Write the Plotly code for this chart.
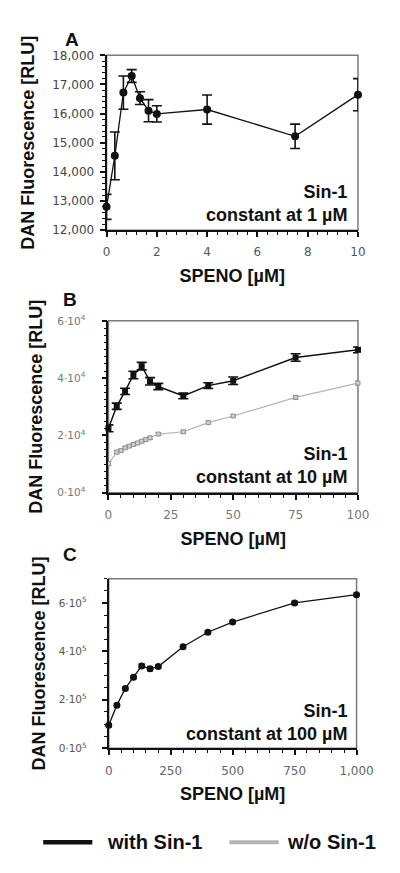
import plotly.graph_objects as go

# ---------------- data ----------------
# Panel A : Sin-1 constant at 1 µM
a_x = [0, 0.33, 0.67, 1.0, 1.33, 1.67, 2.0, 4.0, 7.5, 10.0]
a_y = [12800, 14550, 16720, 17290, 16530, 16100, 15990, 16140, 15220, 16650]
a_err = [430, 820, 570, 220, 220, 380, 280, 500, 420, 550]

# Panel B : Sin-1 constant at 10 µM
b_x_with = [0, 3.33, 6.67, 10, 13.33, 16.67, 20, 30, 40, 50, 75, 100]
b_y_with = [22500, 30200, 35400, 41100, 44200, 38900, 37100, 33800, 37400, 39100, 47200, 49900]
b_err_with = [1200, 1100, 1100, 1300, 1300, 1300, 1100, 1000, 1000, 1300, 1300, 1000]

b_x_wo = [0, 3.33, 5, 6.67, 8.33, 10, 11.67, 13.33, 15, 16.67, 20, 30, 40, 50, 75, 100]
b_y_wo = [10200, 14200, 14800, 15700, 16300, 16900, 17400, 18000, 18600, 19200,
          20500, 21300, 24500, 26800, 33300, 38300]
b_err_wo = [700, 600, 500, 500, 500, 500, 500, 500, 500, 500, 500, 500, 500, 500, 700, 800]

# Panel C : Sin-1 constant at 100 µM
c_x = [0, 33, 67, 100, 133, 167, 200, 300, 400, 500, 750, 1000]
c_y = [95000, 178000, 247000, 293000, 340000, 328000, 337000, 419000, 479000, 521000, 600000, 634000]
c_err = [8000, 7000, 7000, 7000, 8000, 8000, 7000, 7000, 7000, 7000, 7000, 8000]

b_yticks = [0, 20000, 40000, 60000]
b_yticklabels = ["0·10<sup>4</sup>", "2·10<sup>4</sup>", "4·10<sup>4</sup>", "6·10<sup>4</sup>"]
c_yticks = [0, 200000, 400000, 600000]
c_yticklabels = ["0·10<sup>5</sup>", "2·10<sup>5</sup>", "4·10<sup>5</sup>", "6·10<sup>5</sup>"]
c_xticks = [0, 250, 500, 750, 1000]
c_xticklabels = ["0", "250", "500", "750", "1,000"]

panel_notes = ["Sin-1<br>constant at 1 µM", "Sin-1<br>constant at 10 µM", "Sin-1<br>constant at 100 µM"]
legend_names = ["with Sin-1", "w/o Sin-1"]

# ---------------- figure ----------------
# The page body has an 8px margin, so the figure is drawn 8px in from the window edge.
OFF = 8
W, H = 400 - 2 * OFF, 873 - 2 * OFF
FONT = "Liberation Sans, Arial, sans-serif"
TICKFONT = "DejaVu Sans, sans-serif"
BLACK = "#111111"
GRAY = "#b4b4b4"


def px_x(p):
    return (p - OFF) / W


def px_y(p):
    return 1 - (p - OFF) / H


fig = go.Figure()

# Panel A
fig.add_trace(go.Scatter(
    x=a_x, y=a_y, mode="lines+markers", name=legend_names[0], showlegend=False,
    line=dict(color=BLACK, width=1.3),
    marker=dict(symbol="circle", size=8, color=BLACK),
    error_y=dict(type="data", array=a_err, color=BLACK, thickness=1.6, width=5),
    cliponaxis=False, xaxis="x", yaxis="y"))

# Panel B
fig.add_trace(go.Scatter(
    x=b_x_wo, y=b_y_wo, mode="lines+markers", name=legend_names[1], showlegend=False,
    line=dict(color=GRAY, width=1.2),
    marker=dict(symbol="square", size=4, color="#d0d0d0", line=dict(color="#909090", width=1)),
    error_y=dict(type="data", array=b_err_wo, color="#999999", thickness=1, width=3),
    cliponaxis=False, xaxis="x2", yaxis="y2"))
fig.add_trace(go.Scatter(
    x=b_x_with, y=b_y_with, mode="lines+markers", name=legend_names[0], showlegend=False,
    line=dict(color=BLACK, width=1.5),
    marker=dict(symbol="square", size=6, color=BLACK),
    error_y=dict(type="data", array=b_err_with, color=BLACK, thickness=1.6, width=5),
    cliponaxis=False, xaxis="x2", yaxis="y2"))

# Panel C
fig.add_trace(go.Scatter(
    x=c_x, y=c_y, mode="lines+markers", name=legend_names[0], showlegend=False,
    line=dict(color=BLACK, width=1.3),
    marker=dict(symbol="circle", size=7, color=BLACK),
    error_y=dict(type="data", array=c_err, color=BLACK, thickness=1.2, width=3),
    cliponaxis=False, xaxis="x3", yaxis="y3"))

titlefont = dict(family=FONT, size=18, color=BLACK, weight="bold")


def minor(dt):
    return dict(tickmode="linear", tick0=0, dtick=dt, ticks="outside", ticklen=3,
                tickwidth=1, tickcolor=BLACK, showgrid=False)


def xaxis(domain, anchor, rng, dtick=None, tickvals=None, ticktext=None, minor_dtick=None,
          tcolor="#555555"):
    d = dict(domain=domain, anchor=anchor, range=rng, showgrid=False, zeroline=False,
             showline=True, linecolor=BLACK, linewidth=1.8,
             ticks="outside", ticklen=5, tickwidth=1.5, tickcolor=BLACK,
             tickfont=dict(family=TICKFONT, size=12, color=tcolor), ticklabelstandoff=5,
             title=dict(text="SPENO [µM]", font=titlefont, standoff=11),
             minor=minor(minor_dtick))
    if tickvals is not None:
        d.update(tickmode="array", tickvals=tickvals, ticktext=ticktext)
    else:
        d.update(tickmode="linear", tick0=0, dtick=dtick)
    return d


def yaxis(domain, anchor, rng, dtick=None, tickvals=None, ticktext=None, minor_dtick=None,
          fmt=None, tsize=12, tstand=2, tcolor="#555555", title_stand=10):
    d = dict(domain=domain, anchor=anchor, range=rng, showgrid=False, zeroline=False,
             showline=True, linecolor=BLACK, linewidth=1.8,
             ticks="outside", ticklen=5, tickwidth=1.5, tickcolor=BLACK,
             tickfont=dict(family=TICKFONT, size=tsize, color=tcolor), ticklabelstandoff=tstand,
             title=dict(text="DAN Fluorescence [RLU]", font=titlefont, standoff=title_stand),
             minor=minor(minor_dtick))
    if tickvals is not None:
        d.update(tickmode="array", tickvals=tickvals, ticktext=ticktext)
    else:
        d.update(tickmode="linear", tick0=rng[0], dtick=dtick)
    if fmt:
        d["tickformat"] = fmt
    return d


# domains from pixel positions in the window
A_x = [px_x(108), px_x(374)]
A_y = [px_y(226), px_y(48)]
B_x = [px_x(110), px_x(374)]
B_y = [px_y(493.3), px_y(318.3)]
C_x = [px_x(110.3), px_x(372.5)]
C_y = [px_y(753.3), px_y(580.7)]

fig.update_layout(
    width=W, height=H,
    margin=dict(l=0, r=0, t=0, b=0),
    paper_bgcolor="white", plot_bgcolor="white",
    showlegend=False,
    font=dict(family=FONT),
    xaxis=xaxis(A_x, "y", [0, 10], dtick=2, minor_dtick=0.4),
    yaxis=yaxis(A_y, "x", [12000, 18000], dtick=1000, minor_dtick=200, fmt=",d",
                tsize=12, tstand=3, tcolor="#444444", title_stand=13),
    xaxis2=xaxis(B_x, "y2", [0, 100], dtick=25, minor_dtick=5, tcolor="#777777"),
    yaxis2=yaxis(B_y, "x2", [0, 60000], tickvals=b_yticks, ticktext=b_yticklabels, minor_dtick=2500,
                 tsize=10.5, tstand=14, tcolor="#777777", title_stand=10),
    xaxis3=xaxis(C_x, "y3", [0, 1000], tickvals=c_xticks, ticktext=c_xticklabels, minor_dtick=50,
                 tcolor="#666666"),
    yaxis3=yaxis(C_y, "x3", [0, 700000], tickvals=c_yticks, ticktext=c_yticklabels, minor_dtick=50000,
                 tsize=10.5, tstand=13, tcolor="#555555", title_stand=8),
)

# frame (top/right borders in gray)
shapes = []
for xr, yr in [("x", "y"), ("x2", "y2"), ("x3", "y3")]:
    shapes.append(dict(type="rect", xref=xr + " domain", yref=yr + " domain",
                       x0=0, x1=1, y0=0, y1=1, line=dict(color="#7a7a7a", width=1.5), layer="below"))

# legend lines
shapes.append(dict(type="line", xref="paper", yref="paper", x0=px_x(41), x1=px_x(93),
                   y0=px_y(849), y1=px_y(849), line=dict(color=BLACK, width=4.5)))
shapes.append(dict(type="line", xref="paper", yref="paper", x0=px_x(238), x1=px_x(290),
                   y0=px_y(849), y1=px_y(849), line=dict(color=GRAY, width=4)))
fig.update_layout(shapes=shapes)

bold = dict(family=FONT, size=18, color=BLACK, weight="bold")
ann = []
# panel letters
for letter, (lx, ly) in zip(["A", "B", "C"], [(71, 32), (69, 297), (69, 556)]):
    ann.append(dict(text=letter, x=px_x(lx), y=px_y(ly), xref="paper", yref="paper",
                    showarrow=False, xanchor="center", yanchor="middle",
                    font=dict(family=FONT, size=19, color=BLACK, weight="bold")))
# notes
for note, (nx, ny) in zip(panel_notes, [(364, 198.5), (365, 466), (364, 727.5)]):
    ann.append(dict(text=note, x=px_x(nx), y=px_y(ny), xref="paper", yref="paper",
                    showarrow=False, xanchor="right", yanchor="middle", align="right",
                    font=bold))
# legend text
ann.append(dict(text=legend_names[0], x=px_x(106), y=px_y(849), xref="paper", yref="paper",
                showarrow=False, xanchor="left", yanchor="middle",
                font=dict(family=FONT, size=20, color=BLACK, weight="bold")))
ann.append(dict(text=legend_names[1], x=px_x(297), y=px_y(849), xref="paper", yref="paper",
                showarrow=False, xanchor="left", yanchor="middle",
                font=dict(family=FONT, size=20, color=BLACK, weight="bold")))
fig.update_layout(annotations=ann)

fig.write_html("out.html")
